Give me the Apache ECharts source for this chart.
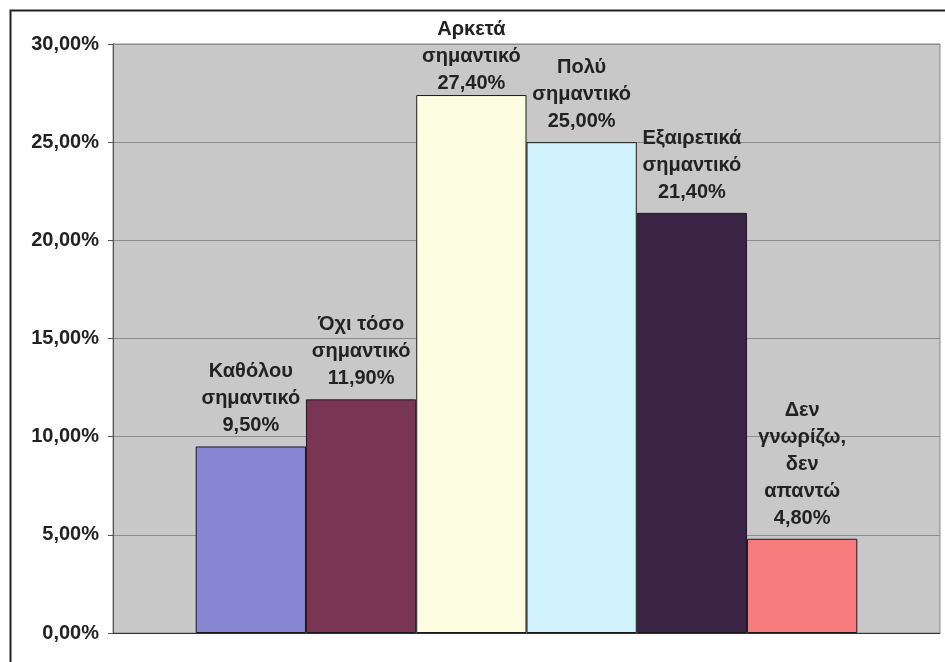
<!DOCTYPE html>
<html>
<head>
<meta charset="utf-8">
<script src="https://cdn.jsdelivr.net/npm/echarts@6/dist/echarts.min.js"></script>
<style>html,body{margin:0;padding:0;background:#fff;}#c{width:945px;height:662px;}</style>
</head>
<body>
<div id="c"></div>
<script>
const categories = ["Καθόλου\nσημαντικό", "Όχι τόσο\nσημαντικό", "Αρκετά\nσημαντικό", "Πολύ\nσημαντικό", "Εξαιρετικά\nσημαντικό", "Δεν\nγνωρίζω,\nδεν\nαπαντώ"];
const values = [9.5, 11.9, 27.4, 25.0, 21.4, 4.8];
const colors = ["#8886d2", "#7a3552", "#fdfde2", "#d2f3fb", "#3a2446", "#f77a7c"];
const yTicks = [0, 5, 10, 15, 20, 25, 30];

function fmt(v){ return v.toFixed(2).replace('.', ',') + '%'; }

const chart = echarts.init(document.getElementById('c'), null, {renderer:'canvas'});
const series = categories.map((name, i) => ({
  name: name,
  type: 'bar',
  data: [values[i]],
  barGap: '0%',
  barCategoryGap: '20%',
  itemStyle: {color: colors[i], borderColor: '#1a1a1a', borderWidth: 1},
  label: {
    show: true,
    position: 'top',
    distance: 7,
    offset: i === 2 ? [0, 9] : [0, 0],
    formatter: () => name + '\n' + fmt(values[i]),
    fontFamily: 'Liberation Sans, Arial, sans-serif',
    fontWeight: 'bold',
    fontSize: 20,
    lineHeight: 27,
    color: '#222'
  }
}));

chart.setOption({
  animation: false,
  backgroundColor: '#fff',
  graphic: [{
    type: 'rect',
    shape: {x: 10.5, y: 10.5, width: 945, height: 660},
    style: {fill: 'none', stroke: '#222', lineWidth: 2},
    z: 100
  }],
  grid: {left: 113, top: 44, right: 5, bottom: 29, show: true, backgroundColor: '#c8c8c8', borderColor: '#888', borderWidth: 1},
  xAxis: {
    type: 'category',
    data: [''],
    axisLine: {lineStyle: {color: '#333', width: 1}},
    axisTick: {show: false},
    axisLabel: {show: false}
  },
  yAxis: {
    type: 'value',
    min: yTicks[0],
    max: yTicks[yTicks.length - 1],
    interval: 5,
    axisLine: {show: true, lineStyle: {color: '#555'}},
    axisTick: {show: true, length: 5, lineStyle: {color: '#555'}},
    splitLine: {lineStyle: {color: '#8c8c8c', width: 1}},
    axisLabel: {
      formatter: v => fmt(v),
      fontFamily: 'Liberation Sans, Arial, sans-serif',
      fontWeight: 'bold',
      fontSize: 20,
      color: '#222',
      margin: 14
    }
  },
  series: series
});
</script>
</body>
</html>
